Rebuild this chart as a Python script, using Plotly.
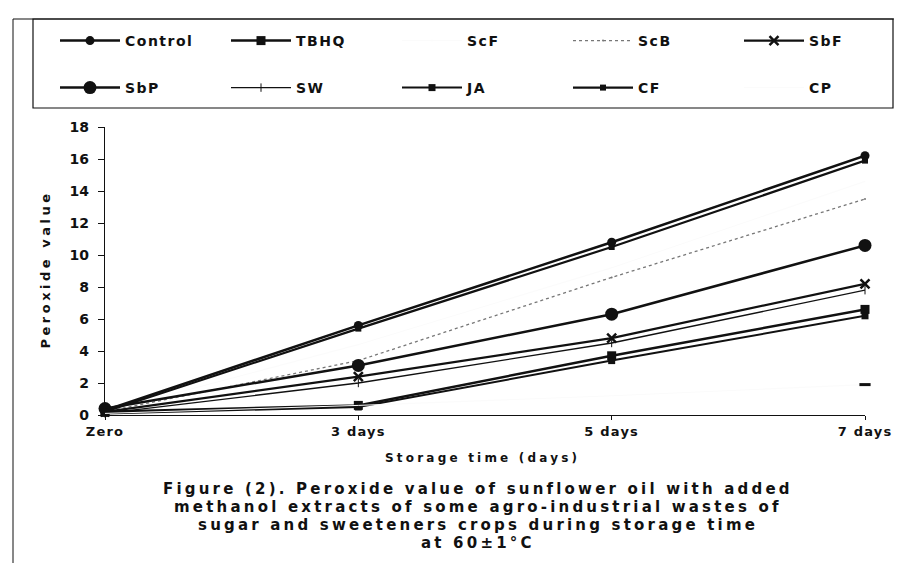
import plotly.graph_objects as go

# ---------------- data ----------------
categories = ["Zero", "3 days", "5 days", "7 days"]

control = [0.3, 5.6, 10.8, 16.2]
tbhq = [0.2, 0.6, 3.7, 6.6]
scf = [0.2, 4.4, 9.2, 14.6]     # not visible in the scan (very light colour)
scb = [0.2, 3.4, 8.6, 13.5]
sbf = [0.2, 2.4, 4.8, 8.2]
sbp = [0.4, 3.1, 6.3, 10.6]
sw = [0.1, 2.0, 4.5, 7.8]
ja = [0.1, 0.5, 3.4, 6.2]
cf = [0.2, 5.4, 10.5, 15.9]
cp = [0.1, 0.6, 1.2, 1.9]

y_ticks = [0, 2, 4, 6, 8, 10, 12, 14, 16, 18]

caption_lines = [
    "Figure (2). Peroxide value of sunflower oil with added",
    "methanol extracts of some agro-industrial wastes of",
    "sugar and sweeteners crops during storage time",
    "at 60±1°C",
]

# ---------------- layout geometry ----------------
W, H = 902, 563
L, R, T, B = 97, 857, 119, 407   # plot area in pixels


def px(x):
    return (x - L) / (R - L)


def py(y):
    return (B - y) / (B - T)


def spaced(s, sp):
    return f'<span style="letter-spacing:{sp}px">{s}</span>'


FONT = "DejaVu Sans"
BLK = "#111111"

fig = go.Figure()


def add(name, y, legend, color=BLK, width=2.5, symbol="circle", msize=8,
        dash="solid", mcolor=None, mline=0):
    fig.add_trace(go.Scatter(
        x=categories, y=y, name=spaced(name, 1.5), mode="lines+markers",
        line=dict(color=color, width=width, dash=dash),
        marker=dict(symbol=symbol, size=msize,
                    color=mcolor if mcolor is not None else color,
                    line=dict(width=mline, color=BLK)),
        cliponaxis=False, legend=legend,
    ))


# row 1 of legend
add("Control", control, "legend", symbol="circle", msize=9)
add("TBHQ", tbhq, "legend", symbol="square", msize=9)
add("ScF", scf, "legend", color="#fbfbfb", width=1, msize=1)
add("ScB", scb, "legend", color="#777777", width=1.3, dash="dot", msize=2)
add("SbF", sbf, "legend", symbol="x-thin-open", msize=9, mline=2.5, width=2.2)
# row 2 of legend
add("SbP", sbp, "legend2", symbol="circle", msize=13, width=2.5)
add("SW", sw, "legend2", symbol="line-ns-open", msize=6, width=1.3, mline=1)
add("JA", ja, "legend2", symbol="square", msize=7, width=2)
add("CF", cf, "legend2", symbol="square", msize=6, width=2.2)
add("CP", cp, "legend2", color="#fbfbfb", width=1, symbol="line-ew-open",
    msize=8, mline=3,
    mcolor=["rgba(0,0,0,0)", "rgba(0,0,0,0)", "rgba(0,0,0,0)", BLK])
fig.data[-1].marker.line.color = ["rgba(0,0,0,0)", "rgba(0,0,0,0)",
                                  "rgba(0,0,0,0)", BLK]

leg_common = dict(
    orientation="h", xanchor="left", yanchor="middle",
    font=dict(family=FONT, size=14, color=BLK, weight="bold"),
    entrywidth=96, entrywidthmode="pixels", itemwidth=60,
    bgcolor="rgba(0,0,0,0)", borderwidth=0, traceorder="normal",
)

annotations = [
    dict(text=spaced("<b>Peroxide value</b>", 3.5), xref="paper", yref="paper",
         x=px(27), y=py(262), textangle=-90, showarrow=False,
         font=dict(family=FONT, size=13, color=BLK)),
    dict(text=spaced("<b>Storage time (days)</b>", 3.2), xref="paper",
         yref="paper", x=px(474), y=py(459), showarrow=False,
         font=dict(family=FONT, size=12, color=BLK)),
]
cap_y = [481, 499, 517, 535]
for line, yy in zip(caption_lines, cap_y):
    annotations.append(dict(
        text=spaced(f"<b>{line}</b>", 3.2), xref="paper", yref="paper",
        x=px(470), y=py(yy), xanchor="center", yanchor="middle",
        showarrow=False, font=dict(family=FONT, size=15, color=BLK)))

fig.update_layout(
    width=W, height=H,
    margin=dict(l=L, r=W - R, t=T, b=H - B, pad=0, autoexpand=False),
    paper_bgcolor="white", plot_bgcolor="white",
    showlegend=True,
    legend=dict(x=px(47), y=py(33), **leg_common),
    legend2=dict(x=px(47), y=py(80), **leg_common),
    xaxis=dict(
        range=[0, 3], showgrid=False, zeroline=False,
        showline=True, linecolor=BLK, linewidth=1.2,
        ticks="outside", ticklen=4, tickcolor=BLK,
        tickvals=categories,
        ticktext=[spaced(f"<b>{c}</b>", 1.2) for c in categories],
        tickfont=dict(family=FONT, size=13, color=BLK),
    ),
    yaxis=dict(
        range=[0, 18], tickvals=y_ticks, showgrid=False, zeroline=False,
        showline=True, linecolor=BLK, linewidth=1.2,
        ticks="outside", ticklen=6, tickcolor=BLK, ticklabelstandoff=6,
        tickfont=dict(family=FONT, size=14, color=BLK, weight="bold"),
    ),
    shapes=[
        # legend frame
        dict(type="rect", xref="paper", yref="paper",
             x0=px(25), x1=px(885), y0=py(100), y1=py(11),
             line=dict(color=BLK, width=1.2)),
        # outer frame lines of the scanned figure
        dict(type="line", xref="paper", yref="paper",
             x0=px(5), x1=px(5), y0=py(11), y1=py(563),
             line=dict(color=BLK, width=1)),
        dict(type="line", xref="paper", yref="paper",
             x0=px(5), x1=px(902), y0=py(11), y1=py(11),
             line=dict(color=BLK, width=1.2)),
    ],
    annotations=annotations,
)

fig.write_html("out.html")
